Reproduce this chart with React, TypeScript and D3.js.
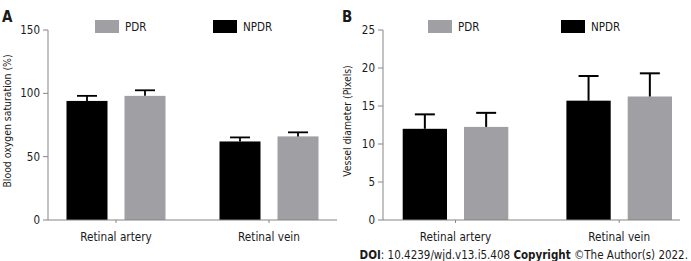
import React from "react";
import * as d3 from "d3";

const categories = ["Retinal artery", "Retinal vein"];
const groups = ["NPDR", "PDR"];

const oxygenMean = { NPDR: [94, 62], PDR: [98, 66] };
const oxygenErr = { NPDR: [4, 3.2], PDR: [4.4, 3.2] };
const oxygenTicks = [0, 50, 100, 150];

const diameterMean = { NPDR: [12.0, 15.7], PDR: [12.25, 16.25] };
const diameterErr = { NPDR: [1.9, 3.25], PDR: [1.85, 3.05] };
const diameterTicks = [0, 5, 10, 15, 20, 25];

const colors: Record<string, string> = { NPDR: "#000000", PDR: "#a0a0a4" };
const FONT = "'DejaVu Sans Condensed', 'DejaVu Sans', sans-serif";
const AXIS = "#858585";
const TEXT = "#1a1a1a";

type PanelProps = {
  letter: string;
  letterX: number;
  axisX: number;
  axisEnd: number;
  centers: [number, number];
  barW: number;
  gap: number;
  yMax: number;
  ticks: number[];
  means: Record<string, number[]>;
  errs: Record<string, number[]>;
  yLabel: string;
  yLabelX: number;
  legendGrayX: number;
  legendBlackX: number;
  errW: number;
};

function Panel(p: PanelProps) {
  const top = 30;
  const base = 220;
  const y = d3.scaleLinear().domain([0, p.yMax]).range([base, top]);
  const x = d3.scalePoint<string>().domain(categories).range(p.centers).padding(0);
  const total = 2 * p.barW + p.gap;
  const sub = d3
    .scaleBand<string>()
    .domain(groups)
    .range([-total / 2, total / 2])
    .paddingInner(p.gap / (p.barW + p.gap))
    .paddingOuter(0);
  const bw = sub.bandwidth();
  return (
    <g>
      <text x={p.letterX} y={22} fontFamily={FONT} fontWeight="bold" fontSize={15} fill={TEXT}>
        {p.letter}
      </text>
      {/* legend */}
      <rect x={p.legendGrayX} y={20} width={24} height={13} fill={colors.PDR} />
      <text x={p.legendGrayX + 30} y={31} fontFamily={FONT} fontSize={11.5} fill={TEXT}>PDR</text>
      <rect x={p.legendBlackX} y={20} width={24} height={13} fill={colors.NPDR} />
      <text x={p.legendBlackX + 30} y={31} fontFamily={FONT} fontSize={11.5} fill={TEXT}>NPDR</text>
      {/* bars */}
      {categories.map((c, i) =>
        groups.map((g) => {
          const bx = (x(c) as number) + (sub(g) as number);
          const m = p.means[g][i];
          const e = p.errs[g][i];
          const cx = bx + bw / 2;
          return (
            <g key={c + g}>
              <rect x={bx} y={y(m)} width={bw} height={base - y(m)} fill={colors[g]} />
              <line x1={cx} x2={cx} y1={y(m)} y2={y(m + e)} stroke="#000" strokeWidth={p.errW} />
              <line x1={cx - 10} x2={cx + 10} y1={y(m + e)} y2={y(m + e)} stroke="#000" strokeWidth={p.errW} />
            </g>
          );
        })
      )}
      {/* y axis */}
      <line x1={p.axisX} x2={p.axisX} y1={top} y2={base} stroke={AXIS} strokeWidth={1} />
      {p.ticks.map((t) => (
        <g key={t}>
          <line x1={p.axisX - 5} x2={p.axisX} y1={y(t)} y2={y(t)} stroke={AXIS} strokeWidth={1} />
          <text x={p.axisX - 8} y={y(t)} dy="0.36em" textAnchor="end" fontFamily={FONT} fontSize={11.5} fill={TEXT}>
            {t}
          </text>
        </g>
      ))}
      {/* x axis */}
      <line x1={p.axisX} x2={p.axisEnd} y1={base} y2={base} stroke={AXIS} strokeWidth={1} />
      {categories.map((c) => (
        <g key={c}>
          <line x1={x(c)} x2={x(c)} y1={base} y2={base + 3} stroke={AXIS} strokeWidth={1} />
          <text x={x(c)} y={241} textAnchor="middle" fontFamily={FONT} fontSize={11.7} fill={TEXT}>
            {c}
          </text>
        </g>
      ))}
      <text
        transform={`translate(${p.yLabelX},121) rotate(-90)`}
        textAnchor="middle"
        dy="0.36em"
        fontFamily={FONT}
        fontSize={10.4}
        fill={TEXT}
      >
        {p.yLabel}
      </text>
    </g>
  );
}

export default function App() {
  return (
    <svg width={691} height={261} style={{ position: "absolute", left: 0, top: 0, background: "#fff" }}>
      <rect width={691} height={261} fill="#fff" />
      <Panel
        letter="A"
        letterX={2}
        axisX={48}
        axisEnd={337}
        centers={[116, 269]}
        barW={41}
        gap={17}
        yMax={150}
        ticks={oxygenTicks}
        means={oxygenMean}
        errs={oxygenErr}
        yLabel="Blood oxygen saturation (%)"
        yLabelX={7}
        legendGrayX={95}
        legendBlackX={213}
        errW={1.8}
      />
      <Panel
        letter="B"
        letterX={342}
        axisX={383}
        axisEnd={680}
        centers={[455.5, 619.2]}
        barW={44.3}
        gap={17}
        yMax={25}
        ticks={diameterTicks}
        means={diameterMean}
        errs={diameterErr}
        yLabel="Vessel diameter (Pixels)"
        yLabelX={347}
        legendGrayX={428}
        legendBlackX={561}
        errW={2}
      />
      <text x={688} y={259} textAnchor="end" fontFamily={FONT} fontSize={11.5} fill={TEXT}>
        <tspan fontWeight="bold">DOI</tspan>
        <tspan>: 10.4239/wjd.v13.i5.408  </tspan>
        <tspan fontWeight="bold">Copyright</tspan>
        <tspan> ©The Author(s) 2022.</tspan>
      </text>
    </svg>
  );
}
